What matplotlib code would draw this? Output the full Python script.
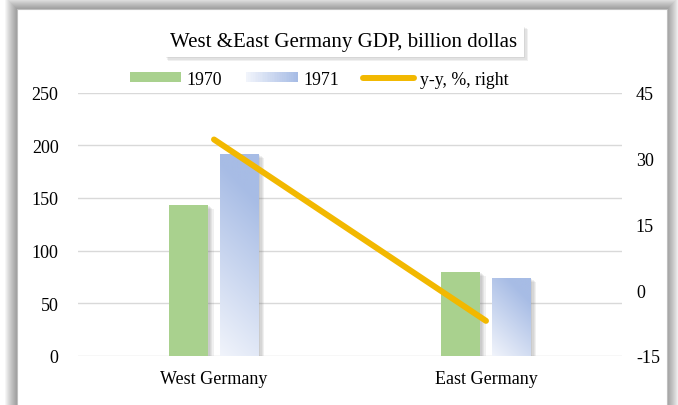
import numpy as np
import matplotlib
matplotlib.use("Agg")
import matplotlib.pyplot as plt
import matplotlib.patheffects as pe
from matplotlib.patches import Rectangle, Patch
from matplotlib.lines import Line2D
from matplotlib.legend_handler import HandlerBase
from matplotlib.colors import to_rgb

# data
categories = ['West Germany', 'East Germany']
gdp_1970 = [143, 80]
gdp_1971 = [192, 74]
yy_pct = [34.3, -7.0]
left_ticks = [0, 50, 100, 150, 200, 250]
right_ticks = [-15, 0, 15, 30, 45]

plt.rcParams['font.family'] = ['Liberation Serif', 'DejaVu Serif']
plt.rcParams['axes.unicode_minus'] = False

W, H = 678, 406
fig = plt.figure(figsize=(W / 100, H / 100), dpi=100)
fig.patch.set_facecolor('white')


def fx(px):
    return px / W


def fy(py):
    return 1 - py / H


# frame shadow + white chart area
cx0, cy0, cx1, cy1 = 17, 10, 667, 420
for k in range(12, 0, -1):
    fig.add_artist(Rectangle((fx(cx0 - k), fy(cy1 + k)), fx(cx1 - cx0 + 2 * k), (cy1 - cy0 + 2 * k) / H,
                             transform=fig.transFigure, facecolor='black', edgecolor='none',
                             alpha=0.035, zorder=0))
fig.add_artist(Rectangle((fx(cx0), fy(cy1)), fx(cx1 - cx0), (cy1 - cy0) / H,
                         transform=fig.transFigure, facecolor='white', edgecolor='#BFBFBF',
                         lw=0.8, zorder=0.5))

ax = fig.add_axes([fx(78), fy(357), fx(544), 263.5 / H])
ax.set_facecolor('none')
ax2 = ax.twinx()
ax.set_zorder(1)
ax2.set_zorder(2)

green = '#A9D18E'
blue_light = np.array(to_rgb('#F1F4FB'))
blue_dark = np.array(to_rgb('#A7BCE5'))

x = np.arange(len(categories))
bw = 0.143
off = 0.093

# soft shadow: a few faint offset copies
shadow = [pe.SimplePatchShadow(offset=(d, -d * 0.7), shadow_rgbFace='#707070', alpha=0.1)
          for d in (1, 2, 3, 4)] + [pe.Normal()]
b1 = ax.bar(x - off, gdp_1970, bw, color=green, zorder=2)
b2 = ax.bar(x + off, gdp_1971, bw, color=blue_dark, zorder=2)
for b in list(b1) + list(b2):
    b.set_path_effects(shadow)

ax.set_xlim(-0.5, 1.5)
ax.set_ylim(0, 250)

# gradient fill for the 1971 bars (diagonal, light bottom-left to dark top-right)
bar_w_px = 39.0
nx, ny = 40, 200
u = np.linspace(0, 1, nx)[None, :]
v = np.linspace(0, 1, ny)[:, None]
for b in b2:
    bx, bh = b.get_x(), b.get_height()
    h_px = bh / 250 * 263.5
    t = np.clip((u * bar_w_px + v * h_px) / ((bar_w_px + h_px) * 0.8), 0, 1)[..., None]
    grad = blue_light * (1 - t) + blue_dark * t
    im = ax.imshow(grad, extent=[bx, bx + bw, 0, bh], origin='lower', aspect='auto', zorder=2.1)
    im.set_clip_path(b)

ax.set_xlim(-0.5, 1.5)
ax.set_ylim(0, 250)
ax.set_yticks(left_ticks)
ax.set_xticks(x)
ax.set_xticklabels(categories)
ax.grid(axis='y', color='#D9D9D9', lw=1)
ax.set_axisbelow(True)
for s in ax.spines.values():
    s.set_visible(False)
ax.tick_params(axis='y', length=0, labelsize=13, pad=14)
ax.tick_params(axis='x', length=0, labelsize=13, pad=10)

line_color = '#F2B800'
ax2.plot(x, yy_pct, color=line_color, lw=4.3, solid_capstyle='round', zorder=3)
ax2.set_ylim(-15, 45)
ax2.set_yticks(right_ticks)
for s in ax2.spines.values():
    s.set_visible(False)
ax2.tick_params(axis='y', length=0, labelsize=13, pad=10)


class HandlerGrad(HandlerBase):
    def create_artists(self, legend, orig_handle, xdescent, ydescent, width, height, fontsize, trans):
        n = 30
        arts = []
        for i in range(n):
            tt = i / (n - 1)
            c = blue_light * (1 - tt) + blue_dark * tt
            arts.append(Rectangle((-xdescent + width * i / n, -ydescent), width / n + 0.3, height,
                                  facecolor=c, edgecolor='none', transform=trans))
        return arts


h1 = Patch(facecolor=green, edgecolor='none')
h2 = Patch(facecolor=blue_dark, edgecolor='none')
h3 = Line2D([0], [0], color=line_color, lw=4.3, solid_capstyle='round')
fig.legend([h1, h2, h3], ['1970', '1971', 'y-y, %, right'], loc='center',
           bbox_to_anchor=(fx(319), fy(80)), ncol=3, frameon=False, fontsize=12.8,
           handlelength=2.9, handleheight=0.52, handletextpad=0.3, columnspacing=1.35,
           handler_map={h2: HandlerGrad()})

title = fig.text(fx(344), fy(42), 'West &East Germany GDP, billion dollas', fontsize=15,
                 ha='center', va='center',
                 bbox=dict(boxstyle='square,pad=0.3', facecolor='white', edgecolor='none'))
title.get_bbox_patch().set_path_effects(
    [pe.SimplePatchShadow(offset=(d, -d), shadow_rgbFace='#707070', alpha=0.1) for d in (1, 2, 3)]
    + [pe.Normal()])

fig.savefig('out.png', dpi=100)
